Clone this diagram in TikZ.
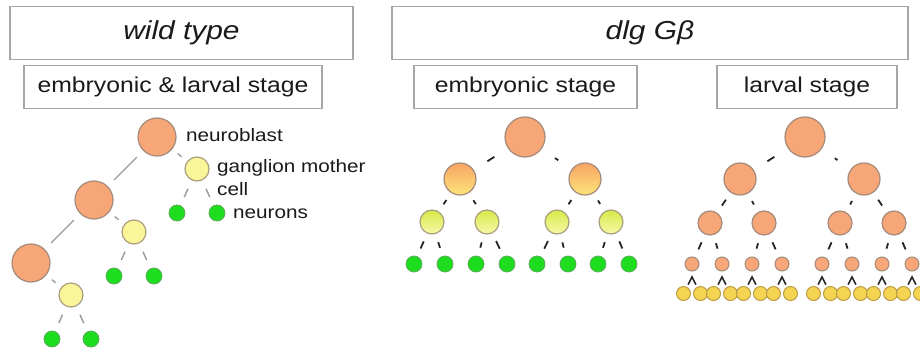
\documentclass[tikz,border=0pt]{standalone}
\usepackage{fontspec}
\usetikzlibrary{calc}
\setmainfont{Liberation Sans}[FakeStretch=1.15]
\definecolor{boxgray}{HTML}{A6A6A6}
\definecolor{txt}{HTML}{1A1A1A}
\definecolor{nbfill}{HTML}{F7A677}
\definecolor{nbborder}{HTML}{A48A7A}
\definecolor{gmcfill}{HTML}{FBF59A}
\definecolor{gmcborder}{HTML}{A89E7E}
\definecolor{neufill}{HTML}{1EDC1E}
\definecolor{neuborder}{HTML}{5AAE5A}
\definecolor{edgegray}{HTML}{999999}
\definecolor{ltop}{HTML}{F7A464}
\definecolor{lbot}{HTML}{FDE478}
\definecolor{ytop}{HTML}{D6EA48}
\definecolor{ybot}{HTML}{F8F8A8}
\definecolor{goldfill}{HTML}{F4D450}
\definecolor{goldborder}{HTML}{BC9C44}
\begin{document}
\begin{tikzpicture}[x=1pt,y=-1pt,
  titlebox/.style={draw=boxgray, line width=1.5pt, fill=white, inner sep=0pt, minimum height=53pt, font=\fontsize{26}{30}\selectfont\itshape, text=txt},
  stagebox/.style={draw=boxgray, line width=1.5pt, fill=white, inner sep=0pt, minimum height=43pt, font=\fontsize{21.5}{25}\selectfont, text=txt},
  lab/.style={font=\fontsize{18}{23}\selectfont, text=txt, inner sep=0pt, align=left},
  cell/.style={circle, inner sep=0pt, line width=1.2pt},
  nb/.style={cell, draw=nbborder, fill=nbfill, minimum size=38pt},
  gmc/.style={cell, draw=gmcborder, fill=gmcfill, minimum size=24pt},
  neu/.style={cell, draw=neuborder, fill=neufill, minimum size=16pt, line width=0.8pt},
  mixA/.style={cell, draw=nbborder, top color=ltop, bottom color=lbot, minimum size=32pt},
  mixB/.style={cell, draw=gmcborder, top color=ytop, bottom color=ybot, minimum size=24pt},
  big/.style={nb, minimum size=40pt},
  orA/.style={nb, minimum size=32pt},
  orB/.style={nb, minimum size=24pt},
  orC/.style={nb, minimum size=14pt, line width=1pt},
  gold/.style={cell, draw=goldborder, fill=goldfill, minimum size=14pt, line width=1pt},
  gline/.style={draw=edgegray, line width=1.4pt},
  kline/.style={draw=black!85, line width=1.8pt},
  eA/.style={kline, shorten <=16pt, shorten >=16pt},
  eB/.style={kline, shorten <=8.5pt, shorten >=8.5pt},
  eC/.style={kline, line width=1.6pt, shorten <=2.5pt, shorten >=2.5pt}
]
\useasboundingbox (0,0) rectangle (920,353);
\clip (0,0) rectangle (920,353);
\fill[white] (0,0) rectangle (920,353);

% header boxes
\node[titlebox, minimum width=343pt] (wt) at (181.5,33) {wild type};
\node[stagebox, minimum width=298pt] (wtst) at (173,87) {embryonic \& larval stage};
\node[titlebox, minimum width=516pt] (dlg) at (650,33) {dlg Gβ};
\node[stagebox, minimum width=223pt] (emst) at (525.5,87) {embryonic stage};
\node[stagebox, minimum width=180pt] (lvst) at (807,87) {larval stage};

% ---------------- wild type ----------------
\node[nb] (nb1) at (157,137) {};
\node[nb] (nb2) at (94,200) {};
\node[nb] (nb3) at (31,263) {};
\node[gmc] (g1) at (197,169) {};
\node[gmc] (g2) at (134,232) {};
\node[gmc] (g3) at (71,295) {};
\node[neu] (n1a) at (177,213) {};
\node[neu] (n1b) at (217,213) {};
\node[neu] (n2a) at (114,276) {};
\node[neu] (n2b) at (154,276) {};
\node[neu] (n3a) at (52,339) {};
\node[neu] (n3b) at (91,339) {};

\draw[gline, shorten <=9pt, shorten >=9pt] (nb1) -- (nb2);
\draw[gline, shorten <=9pt, shorten >=9pt] (nb2) -- (nb3);
\draw[gline, shorten <=7pt, shorten >=7pt] (nb1) -- (g1);
\draw[gline, shorten <=7pt, shorten >=7pt] (nb2) -- (g2);
\draw[gline, shorten <=7pt, shorten >=7pt] (nb3) -- (g3);
\foreach \g/\a/\b in {g1/n1a/n1b, g2/n2a/n2b, g3/n3a/n3b}{
  \draw[gline, shorten <=9pt, shorten >=9pt] (\g) -- (\a);
  \draw[gline, shorten <=9pt, shorten >=9pt] (\g) -- (\b);
}

\node[lab, anchor=base west] (lnb) at (186,141) {neuroblast};
\node[lab, anchor=north west] (lgmc) at (217,159) {ganglion mother\\cell};
\node[lab, anchor=base west] (lneu) at (233,218) {neurons};

% ---------------- dlg embryonic ----------------
\node[big] (e1) at (525,137) {};
\node[mixA] (e2a) at (460,179) {};
\node[mixA] (e2b) at (585,179) {};
\node[mixB] (e3a) at (432,222) {};
\node[mixB] (e3b) at (487,222) {};
\node[mixB] (e3c) at (557,222) {};
\node[mixB] (e3d) at (611,222) {};
\foreach \i/\x in {1/414,2/445,3/476,4/507,5/537,6/568,7/598,8/629}{
  \node[neu] (e4\i) at (\x,264) {};
}
\draw[eA] (e1) -- (e2a);
\draw[eA] (e1) -- (e2b);
\draw[eB] (e2a) -- (e3a);
\draw[eB] (e2a) -- (e3b);
\draw[eB] (e2b) -- (e3c);
\draw[eB] (e2b) -- (e3d);
\draw[eB] (e3a) -- (e41); \draw[eB] (e3a) -- (e42);
\draw[eB] (e3b) -- (e43); \draw[eB] (e3b) -- (e44);
\draw[eB] (e3c) -- (e45); \draw[eB] (e3c) -- (e46);
\draw[eB] (e3d) -- (e47); \draw[eB] (e3d) -- (e48);

% ---------------- dlg larval ----------------
\node[big] (l1) at (805,137) {};
\node[orA] (l2a) at (740,179) {};
\node[orA] (l2b) at (864,179) {};
\node[orB] (l3a) at (710,223) {};
\node[orB] (l3b) at (764,223) {};
\node[orB] (l3c) at (840,223) {};
\node[orB] (l3d) at (894,223) {};
\foreach \i/\x in {1/692,2/722,3/752,4/782,5/822,6/852,7/882,8/912}{
  \node[orC] (l4\i) at (\x,264) {};
}
\foreach \i/\x in {1/692,2/722,3/752,4/782,5/822,6/852,7/882,8/912}{
  \node[gold] (l5\i a) at (\x-8.5,293.5) {};
  \node[gold] (l5\i b) at (\x+8.5,293.5) {};
}
\draw[eA] (l1) -- (l2a);
\draw[eA] (l1) -- (l2b);
\draw[eB] (l2a) -- (l3a);
\draw[eB] (l2a) -- (l3b);
\draw[eB] (l2b) -- (l3c);
\draw[eB] (l2b) -- (l3d);
\draw[eB] (l3a) -- (l41); \draw[eB] (l3a) -- (l42);
\draw[eB] (l3b) -- (l43); \draw[eB] (l3b) -- (l44);
\draw[eB] (l3c) -- (l45); \draw[eB] (l3c) -- (l46);
\draw[eB] (l3d) -- (l47); \draw[eB] (l3d) -- (l48);
\foreach \i in {1,...,8}{
  \coordinate (k\i) at ($(l4\i)+(0,13)$);
  \draw[eC] (l5\i a) -- (k\i) -- (l5\i b);
}
\end{tikzpicture}
\end{document}
